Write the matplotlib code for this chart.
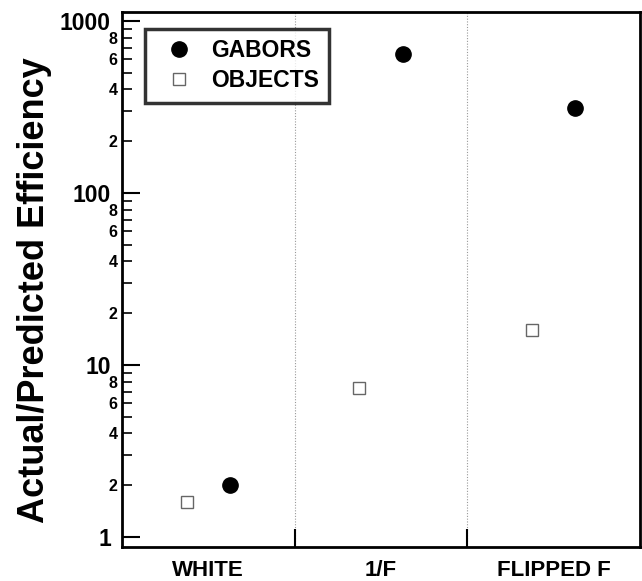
import matplotlib.pyplot as plt
import numpy as np
from matplotlib.ticker import FixedLocator, FixedFormatter

plt.rcParams['font.family'] = ['Liberation Sans', 'DejaVu Sans']
plt.rcParams['font.weight'] = 'bold'

# conditions and efficiency ratios
conditions = ['WHITE', '1/F', 'FLIPPED F']
gabors = [2.0, 640, 312]
objects = [1.6, 7.35, 16.0]

fig = plt.figure(figsize=(6.42, 5.81), dpi=100)
ax = fig.add_axes([0.19, 0.0585, 0.807, 0.921])

x = np.arange(len(conditions))
ax.plot(x + 0.625, gabors, 'o', color='black', markersize=11, linestyle='none', label='GABORS')
ax.plot(x + 0.375, objects, 's', markerfacecolor='white', markeredgecolor='#666666',
        markeredgewidth=1.0, markersize=8.8, linestyle='none', label='OBJECTS')

# dotted separators between conditions
for xi in [1, 2]:
    ax.axvline(xi, color='#999999', linestyle=(0, (1, 1.5)), linewidth=0.8, zorder=0)

ax.set_yscale('log')
ax.set_ylim(0.875, 1128)
ax.set_xlim(0, 3)

ax.yaxis.set_major_locator(FixedLocator([1, 10, 100, 1000]))
ax.yaxis.set_major_formatter(FixedFormatter(['1', '10', '100', '1000']))
minors = [m * 10 ** d for d in range(3) for m in range(2, 10)]
ax.yaxis.set_minor_locator(FixedLocator(minors))
minor_labels = [str(m) if m in (2, 4, 6, 8) else '' for d in range(3) for m in range(2, 10)]
ax.yaxis.set_minor_formatter(FixedFormatter(minor_labels))
ax.tick_params(axis='y', which='major', direction='in', length=13, width=1.5,
               labelsize=16.5, pad=8)
ax.tick_params(axis='y', which='minor', direction='in', length=7, width=1.2,
               labelsize=11.5, pad=3)

ax.set_xticks([1, 2])
ax.set_xticklabels(['', ''])
ax.set_xticks([0.5, 1.5, 2.5], minor=True)
ax.set_xticklabels(conditions, minor=True)
ax.tick_params(axis='x', which='major', direction='in', length=13, width=1.5)
ax.tick_params(axis='x', which='minor', length=0, labelsize=16, pad=9)

for s in ax.spines.values():
    s.set_linewidth(2)

ax.set_ylabel('Actual/Predicted Efficiency', fontsize=26, fontweight='bold', va='center')
ax.yaxis.set_label_coords(-0.168, 0.48)

leg = ax.legend(loc='upper left', bbox_to_anchor=(0.044, 0.968), frameon=True,
                fancybox=False, edgecolor='black', fontsize=16.5, handletextpad=0.4,
                borderpad=0.45, labelspacing=0.3, handlelength=2.05, borderaxespad=0)
leg.get_frame().set_linewidth(2.5)

fig.savefig('out.png', dpi=100)
